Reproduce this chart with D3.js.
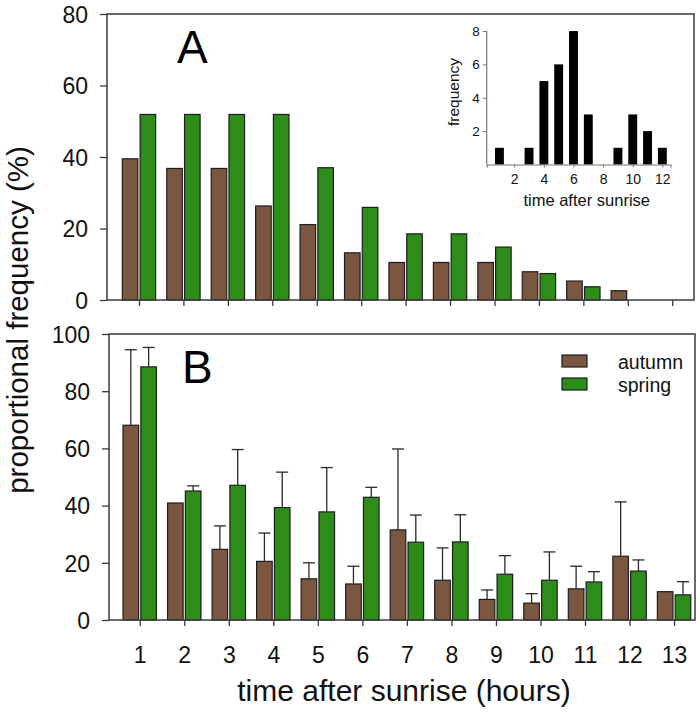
<!DOCTYPE html>
<html><head><meta charset="utf-8">
<script src="https://cdn.jsdelivr.net/npm/d3@7"></script>
<style>
body{margin:0;background:#fff;}
svg{display:block;font-family:"Liberation Sans",Arial,sans-serif;}
</style></head>
<body>
<svg id="chart" width="700" height="721"></svg>
<script>
const hours = [1,2,3,4,5,6,7,8,9,10,11,12,13];
const autumnA = [39.5,36.8,36.8,26.3,21.1,13.2,10.5,10.5,10.5,7.9,5.3,2.6,0];
const springA = [51.9,51.9,51.9,51.9,37.0,25.9,18.5,18.5,14.8,7.4,3.7,0,0];
const autumnB = [68.1,40.9,24.7,20.5,14.4,12.6,31.5,13.9,7.2,5.9,10.9,22.3,9.9];
const autumnBErr = [26.4,0,8.2,9.9,5.6,6.2,28.3,11.3,3.3,3.3,7.9,19.0,0];
const springB = [88.5,45.1,47.1,39.3,37.8,42.9,27.2,27.3,16.0,13.9,13.3,17.1,8.8];
const springBErr = [6.8,1.8,12.5,12.4,15.5,3.5,9.5,9.5,6.5,9.9,3.6,3.9,4.6];
const insetHours = [1,2,3,4,5,6,7,8,9,10,11,12];
const insetFreq = [1,0,1,5,6,8,3,0,1,3,2,1];
const yTicksA = [0,20,40,60,80];
const yTicksB = [0,20,40,60,80,100];
const insetYTicks = [2,4,6,8];
const insetXTicks = [2,4,6,8,10,12];
const seriesNames = ["autumn","spring"];
const colors = {autumn:"#7b5641", spring:"#2e8c1a"};

const svg = d3.select("#chart");
const frameColor = "#3a3a3a";
const barStroke = "#1e1e1e";

function panel(cfg){
  const g = svg.append("g");
  const x = d3.scaleLinear().domain(cfg.xDomain).range([cfg.left, cfg.right]);
  const y = d3.scaleLinear().domain(cfg.yDomain).range([cfg.bottom, cfg.top]);
  const bw = 0.35, gap = 0.025;
  cfg.series.forEach((s, si) => {
    const off = si === 0 ? -(bw+gap) : gap;
    const gs = g.append("g");
    gs.selectAll("rect").data(hours.map((h,i)=>({h, v:s.values[i]})).filter(d=>d.v>0))
      .join("rect")
      .attr("x", d => x(d.h+off))
      .attr("width", d => x(d.h+off+bw) - x(d.h+off))
      .attr("y", d => y(d.v))
      .attr("height", d => y(0) - y(d.v))
      .attr("fill", s.color).attr("stroke", barStroke).attr("stroke-width", 1.2);
    if (s.err) {
      const eb = hours.map((h,i)=>({h, v:s.values[i], e:s.err[i]})).filter(d=>d.e>0);
      const cx = d => x(d.h+off+bw/2);
      gs.selectAll("line.eb").data(eb).join("line").attr("class","eb")
        .attr("x1", cx).attr("x2", cx)
        .attr("y1", d=>y(d.v)).attr("y2", d=>y(d.v+d.e))
        .attr("stroke", "#2a2a2a").attr("stroke-width", 1.3);
      gs.selectAll("line.cap").data(eb).join("line").attr("class","cap")
        .attr("x1", d=>cx(d)-6).attr("x2", d=>cx(d)+6)
        .attr("y1", d=>y(d.v+d.e)).attr("y2", d=>y(d.v+d.e))
        .attr("stroke", "#2a2a2a").attr("stroke-width", 1.3);
    }
  });
  g.append("rect").attr("x", cfg.left).attr("y", cfg.top)
    .attr("width", cfg.right-cfg.left).attr("height", cfg.bottom-cfg.top)
    .attr("fill","none").attr("stroke", frameColor).attr("stroke-width", 1.5);
  const xa = g.append("g").attr("transform", `translate(0,${cfg.bottom})`)
    .call(d3.axisBottom(x).tickValues(hours).tickSize(6).tickFormat(cfg.xLabels ? d3.format("d") : ""));
  xa.select(".domain").remove();
  xa.selectAll(".tick line").attr("stroke", frameColor).attr("stroke-width", 1.3);
  xa.selectAll(".tick text").attr("font-size", 23).attr("fill","#111").attr("dy", "0").attr("y", 43)
    .attr("font-family", "Liberation Sans, Arial, sans-serif");
  const ya = g.append("g").attr("transform", `translate(${cfg.left},0)`)
    .call(d3.axisLeft(y).tickValues(cfg.yTicks).tickSize(7).tickPadding(12));
  ya.select(".domain").remove();
  ya.selectAll(".tick line").attr("stroke", frameColor).attr("stroke-width", 1.3);
  ya.selectAll(".tick text").attr("font-size", 23).attr("fill","#111")
    .attr("font-family", "Liberation Sans, Arial, sans-serif").attr("dy","0.36em");
  g.append("text").attr("x", cfg.letterX).attr("y", cfg.letterY).attr("font-size", 46)
    .attr("fill","#000").text(cfg.letter);
  return {x, y};
}

panel({
  left:107, right:694, top:14, bottom:300,
  xDomain:[0.28,13.49], yDomain:[0,80], yTicks:yTicksA, xLabels:false,
  series:[{values:autumnA, color:colors.autumn},{values:springA, color:colors.spring}],
  letter:"A", letterX:177, letterY:63
});
panel({
  left:109, right:695, top:334, bottom:620,
  xDomain:[0.31,13.47], yDomain:[0,100], yTicks:yTicksB, xLabels:true,
  series:[{values:autumnB, err:autumnBErr, color:colors.autumn},{values:springB, err:springBErr, color:colors.spring}],
  letter:"B", letterX:182, letterY:383
});

const leg = svg.append("g");
seriesNames.forEach((n,i)=>{
  leg.append("rect").attr("x",562).attr("y",355+i*23).attr("width",25).attr("height",12)
    .attr("fill",colors[n]).attr("stroke",barStroke).attr("stroke-width",1.2);
  leg.append("text").attr("x",618).attr("y",362+i*23).attr("dy","0.35em")
    .attr("font-size",19.5).attr("fill","#111").text(n);
});

const ix = d3.scaleLinear().domain([0.14,12.55]).range([486.7,670.5]);
const iy = d3.scaleLinear().domain([0,8]).range([164.5,31]);
const ig = svg.append("g");
ig.selectAll("rect").data(insetHours.map((h,i)=>({h,v:insetFreq[i]})).filter(d=>d.v>0)).join("rect")
  .attr("x", d=>ix(d.h-0.3)).attr("width", d=>ix(d.h+0.3)-ix(d.h-0.3))
  .attr("y", d=>iy(d.v)).attr("height", d=>iy(0)-iy(d.v)).attr("fill","#000");
const ixa = ig.append("g").attr("transform",`translate(0,${iy(0)})`)
  .call(d3.axisBottom(ix).tickValues(insetXTicks).tickSize(3).tickPadding(7));
ixa.select(".domain").attr("stroke","#777").attr("stroke-width",1.2);
ixa.selectAll(".tick line").attr("stroke","#777");
ixa.selectAll(".tick text").attr("font-size",14).attr("fill","#111");
const iya = ig.append("g").attr("transform",`translate(${ix.range()[0]},0)`)
  .call(d3.axisLeft(iy).tickValues(insetYTicks).tickSize(4).tickPadding(3));
iya.select(".domain").attr("stroke","#777").attr("stroke-width",1.2).attr("d", `M-0,${iy(0)}V${iy(8)}`);
iya.selectAll(".tick line").attr("stroke","#777");
iya.selectAll(".tick text").attr("font-size",13.5).attr("fill","#111");
ig.append("text").attr("x",586.7).attr("y",206).attr("text-anchor","middle")
  .attr("font-size",16.5).attr("fill","#111").text("time after sunrise");
ig.append("text").attr("transform","translate(459,92) rotate(-90)").attr("text-anchor","middle")
  .attr("font-size",15.5).attr("fill","#111").text("frequency");

svg.append("text").attr("x",404).attr("y",701).attr("text-anchor","middle")
  .attr("font-size",30).attr("fill","#111").text("time after sunrise (hours)");
svg.append("text").attr("transform","translate(28,320) rotate(-90)").attr("text-anchor","middle")
  .attr("font-size",29.5).attr("fill","#111").text("proportional frequency (%)");
</script>
</body></html>
